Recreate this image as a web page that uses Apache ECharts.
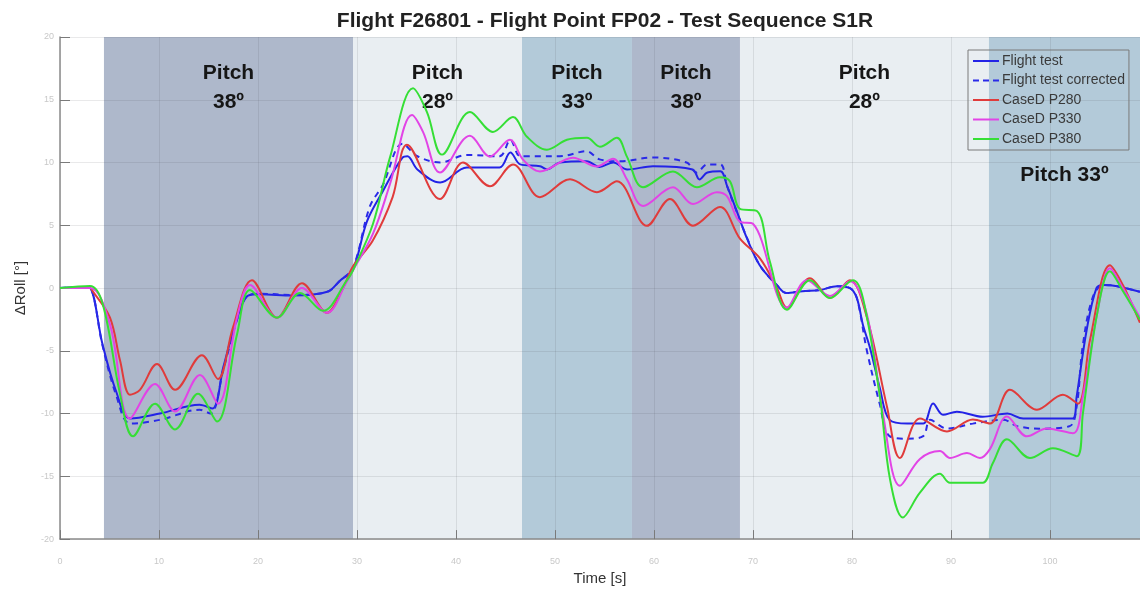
<!DOCTYPE html>
<html>
<head>
<meta charset="utf-8">
<script src="https://cdn.jsdelivr.net/npm/echarts@6/dist/echarts.min.js"></script>
<style>
  html, body { margin: 0; padding: 0; background: #ffffff; }
  #chart { width: 1140px; height: 591px; }
</style>
</head>
<body>
<div id="chart"></div>
<script>
// Labels
const titleText = 'Flight F26801 - Flight Point FP02 - Test Sequence S1R';
const xName = 'Time [s]';
const yName = 'ΔRoll [°]';
const seriesNames = ['Flight test', 'Flight test corrected', 'CaseD P280', 'CaseD P330', 'CaseD P380'];

// Pitch phases: boundaries in seconds, label and pitch angle of each phase
const phaseEdges = [4.44, 29.6, 46.67, 57.78, 68.69, 93.84, 109.1];
const phaseLabels = ['Pitch\n38º', 'Pitch\n28º', 'Pitch\n33º', 'Pitch\n38º', 'Pitch\n28º', 'Pitch 33º'];
const phasePitch = [38, 28, 33, 38, 28, 33];

// [time s, delta roll deg]
const flightTest = [
  [0, 0], [2.5, 0.08], [3.0, 0.05], [4.3, -4.5], [5.7, -8.3], [7.1, -10.4], [10.1, -10.0], [14.1, -9.3],
  [15.4, -9.6], [16.5, -6.3], [17.9, -2.4], [19.0, -0.6], [20.2, -0.5], [23.5, -0.6], [27.0, -0.3],
  [28.3, 0.6], [29.6, 1.5], [31.0, 5.3], [32.6, 7.7], [34.6, 10.4], [35.1, 10.5], [36.1, 9.45],
  [38.4, 8.4], [41.1, 9.6], [44.4, 9.6], [45.5, 10.8], [46.5, 9.85], [48.5, 9.7], [49.2, 9.45],
  [50.5, 10.0], [53.2, 10.1], [54.5, 9.65], [55.9, 10.0], [57.3, 9.45], [59.9, 9.7], [63.9, 9.45],
  [64.6, 8.65], [65.4, 9.2], [66.7, 9.3], [67.4, 8.1], [68.4, 6.05], [69.4, 3.95], [70.7, 1.8],
  [72.4, 0.25], [73.4, -0.4], [75.0, -0.25], [76.8, -0.15], [78.5, 0.15], [79.8, 0], [80.5, -0.8],
  [81.1, -2.9], [81.8, -4.7], [82.8, -7.9], [83.8, -10.5], [85.6, -10.8], [87.2, -10.8], [88.2, -9.2],
  [89.2, -10.1], [90.6, -9.85], [93.2, -10.25], [95.7, -10.0], [97.3, -10.4], [102.3, -10.4],
  [102.7, -8.65], [103.7, -3.4], [104.7, 0.0], [105.4, 0.25], [106.8, 0.15], [109.1, -0.3]
];

const flightTestCorrected = [
  [0, 0], [2.5, 0.08], [3.0, 0.05], [4.3, -4.6], [5.7, -8.6], [7.1, -10.8], [10.1, -10.5], [14.1, -9.7],
  [15.2, -10.0], [16.5, -6.5], [17.9, -2.5], [19.0, -0.6], [20.2, -0.45], [23.5, -0.55], [27.0, -0.3],
  [28.3, 0.6], [29.6, 1.6], [31.3, 6.5], [32.6, 8.2], [34.6, 11.5], [36.1, 10.5], [38.4, 10.0],
  [41.1, 10.6], [44.4, 10.5], [45.5, 11.8], [46.5, 10.5], [48.5, 10.5], [50.5, 10.5], [53.2, 10.9],
  [54.5, 10.25], [56.6, 10.1], [59.9, 10.4], [63.3, 10.0], [64.3, 9.2], [65.4, 9.85], [66.7, 9.85],
  [67.4, 8.1], [68.4, 6.0], [69.4, 4.0], [70.7, 1.8], [72.4, 0.25], [73.4, -0.4], [75.0, -0.25],
  [76.8, -0.15], [78.5, 0.15], [79.8, 0], [80.5, -0.8], [81.5, -4.95], [82.8, -9.2], [83.8, -11.8],
  [85.6, -12.0], [87.2, -11.8], [87.9, -10.5], [89.6, -11.2], [92.2, -10.8], [95.3, -10.5], [96.7, -11.0],
  [99.0, -11.2], [102.0, -11.0], [102.7, -9.45], [103.3, -4.7], [104.3, -0.8], [105.4, 0.25],
  [106.8, 0.15], [109.1, -0.3]
];

const caseP280 = [
  [0, 0], [3.0, 0], [3.3, -0.24], [5.05, -2.36], [6.06, -5.75], [7.07, -8.5], [8.08, -8.11], [9.8, -6.06],
  [11.62, -8.11], [14.34, -5.35], [15.96, -7.24], [17.47, -3.15], [19.39, 0.63], [21.92, -2.36],
  [24.44, 0.39], [26.97, -1.97], [28.59, 0], [29.6, 1.73], [31.6, 3.78], [33.6, 7.24], [35.05, 11.42],
  [38.38, 7.09], [40.71, 10.0], [43.43, 8.11], [45.76, 9.84], [48.48, 7.24], [51.52, 8.66], [54.24, 7.64],
  [56.26, 8.5], [59.29, 4.96], [61.62, 7.09], [63.94, 4.96], [66.67, 6.46], [68.69, 3.94], [70.71, 2.36],
  [72.42, 0], [73.43, -1.57], [75.76, 0.79], [77.78, -0.79], [79.8, 0.63], [81.52, -2.36], [83.54, -9.45],
  [84.85, -13.54], [86.87, -10.39], [89.6, -11.42], [92.22, -10.47], [93.94, -10.79], [95.96, -8.11],
  [98.69, -9.69], [101.31, -8.5], [102.83, -9.21], [104.04, -4.17], [106.06, 1.81], [107.37, 0.24],
  [109.09, -2.76]
];

const caseP330 = [
  [0, 0], [3.03, 0], [5.05, -2.91], [7.07, -10.39], [9.6, -7.64], [11.62, -9.84], [14.14, -6.93],
  [15.96, -9.21], [17.88, -2.36], [19.19, 0.24], [21.92, -2.36], [24.44, 0], [26.97, -1.97], [28.99, 0.55],
  [29.6, 1.42], [31.62, 4.33], [33.33, 8.27], [35.56, 13.78], [36.67, 12.44], [38.38, 9.21], [41.41, 12.13],
  [43.43, 10.47], [45.45, 11.81], [46.77, 10.24], [48.48, 9.29], [51.82, 10.39], [54.24, 9.69],
  [55.86, 10.31], [57.27, 8.66], [58.89, 6.54], [61.92, 8.03], [63.94, 6.69], [66.36, 7.64], [67.37, 7.32],
  [68.69, 5.28], [70.0, 5.12], [73.43, -1.57], [75.45, 0.63], [77.78, -0.63], [79.8, 0.55], [81.52, -2.13],
  [83.13, -10.0], [84.85, -15.75], [86.87, -13.62], [88.89, -12.99], [89.9, -13.54], [91.62, -13.15],
  [92.93, -13.54], [93.94, -12.83], [95.66, -10.24], [97.68, -11.81], [99.7, -11.18], [102.32, -11.57],
  [103.33, -8.66], [104.75, -2.13], [106.06, 1.57], [107.37, 0], [109.09, -2.36]
];

const caseP380 = [
  [0, 0], [3.03, 0.16], [4.34, -1.34], [6.06, -8.43], [7.37, -11.81], [9.6, -9.21], [11.62, -11.26],
  [13.94, -8.43], [15.86, -10.63], [17.88, -3.7], [19.19, -0.16], [21.92, -2.36], [24.24, -0.39],
  [26.57, -1.81], [28.99, 0.63], [29.6, 1.42], [31.62, 5.12], [33.33, 10.39], [35.66, 15.91], [37.07, 14.02],
  [38.59, 10.63], [41.41, 14.02], [43.74, 12.44], [45.76, 13.62], [47.17, 12.05], [49.19, 11.02],
  [51.21, 11.81], [53.23, 11.97], [54.55, 11.26], [56.26, 11.97], [57.27, 10.47], [58.89, 8.03],
  [61.92, 9.29], [64.34, 8.03], [66.67, 8.82], [67.68, 8.5], [68.69, 6.3], [70.4, 6.14], [71.7, 2.13],
  [73.43, -1.73], [75.76, 0.63], [77.78, -0.79], [80.1, 0.63], [81.11, -0.79], [82.83, -8.66],
  [83.84, -15.2], [85.15, -18.27], [86.87, -16.3], [88.89, -14.8], [89.9, -15.51], [91.62, -15.51],
  [93.23, -15.51], [94.24, -13.94], [95.66, -12.05], [97.98, -13.54], [100.3, -12.76], [102.73, -13.39],
  [103.33, -10.0], [104.75, -2.13], [106.06, 1.34], [107.37, -0.24], [109.09, -2.52]
];

// Styling
const FONT = 'Liberation Sans, Arial, sans-serif';
const bandColor = { 38: '#aeb8cb', 28: '#e9eef2', 33: '#b3cad9' };
const lineColors = ['#2323e6', '#2a2ae8', '#e03b3b', '#e244e6', '#35df35'];
const seriesData = [flightTest, flightTestCorrected, caseP280, caseP330, caseP380];
// legend glyphs: a plain stroke, or a dashed one for the corrected trace
const solidIcon = 'path://M0,0h26v2h-26z';
const dashedIcon = 'path://M0,0h6v2h-6z M10,0h6v2h-6z M20,0h6v2h-6z';

const phaseAreas = phaseLabels.map((lab, i) => [
  {
    xAxis: phaseEdges[i],
    name: lab,
    itemStyle: { color: bandColor[phasePitch[i]] },
    label: i === phaseLabels.length - 1 ? { distance: 124 } : {}
  },
  { xAxis: phaseEdges[i + 1] }
]);

const curveSeries = seriesNames.map((name, i) => ({
  name: name,
  type: 'line',
  data: seriesData[i],
  smooth: 0.35,
  symbol: 'none',
  z: 3,
  lineStyle: {
    color: lineColors[i],
    width: 2,
    type: i === 1 ? [6, 5] : 'solid'
  },
  itemStyle: { color: lineColors[i] },
  emphasis: { disabled: true }
}));

const chart = echarts.init(document.getElementById('chart'), null, { renderer: 'canvas' });
chart.setOption({
  animation: false,
  backgroundColor: '#ffffff',
  title: {
    text: titleText,
    left: 600,
    top: 6,
    textAlign: 'center',
    textStyle: { fontFamily: FONT, fontSize: 21, fontWeight: 'bold', color: '#222' }
  },
  legend: {
    data: seriesNames.map((n, i) => ({ name: n, icon: i === 1 ? dashedIcon : solidIcon })),
    orient: 'vertical',
    left: 968,
    top: 50,
    padding: [4, 4, 4, 5],
    itemGap: 5.5,
    itemWidth: 26,
    itemHeight: 2,
    borderColor: '#7a7a7a',
    borderWidth: 1,
    backgroundColor: 'transparent',
    textStyle: { fontFamily: FONT, fontSize: 14, color: '#3a3a3a', padding: [0, 0, 0, -2] }
  },
  grid: { left: 60, right: 0, top: 37, bottom: 45, containLabel: false },
  xAxis: {
    type: 'value',
    min: 0,
    max: 109.1,
    interval: 10,
    z: 2,
    name: xName,
    nameLocation: 'middle',
    nameGap: 31,
    nameTextStyle: { fontFamily: FONT, fontSize: 15, color: '#333' },
    axisLine: { show: true, onZero: false, lineStyle: { color: '#8a8a8a', width: 1.5 } },
    axisTick: { show: true, inside: true, length: 9, lineStyle: { color: '#7a7a7a' } },
    axisLabel: { color: '#c8c8c8', fontSize: 9, margin: 18, showMaxLabel: false },
    splitLine: { show: true, lineStyle: { color: 'rgba(70,70,80,0.12)', width: 1 } }
  },
  yAxis: {
    type: 'value',
    min: -20,
    max: 20,
    interval: 5,
    z: 2,
    name: yName,
    nameLocation: 'middle',
    nameGap: 32,
    nameTextStyle: { fontFamily: FONT, fontSize: 15, color: '#333' },
    axisLine: { show: true, onZero: false, lineStyle: { color: '#8a8a8a', width: 1.5 } },
    axisTick: { show: true, inside: true, length: 10, lineStyle: { color: '#7a7a7a' } },
    axisLabel: { color: '#c8c8c8', fontSize: 9, margin: 6 },
    splitLine: { show: true, lineStyle: { color: 'rgba(70,70,80,0.12)', width: 1 } }
  },
  series: [
    {
      type: 'line',
      data: [],
      z: 1,
      silent: true,
      markArea: {
        silent: true,
        label: {
          show: true,
          position: 'insideTop',
          distance: 22,
          fontFamily: FONT,
          fontSize: 21,
          fontWeight: 'bold',
          lineHeight: 29,
          align: 'center',
          color: '#161616'
        },
        data: phaseAreas
      }
    }
  ].concat(curveSeries)
});
</script>
</body>
</html>
